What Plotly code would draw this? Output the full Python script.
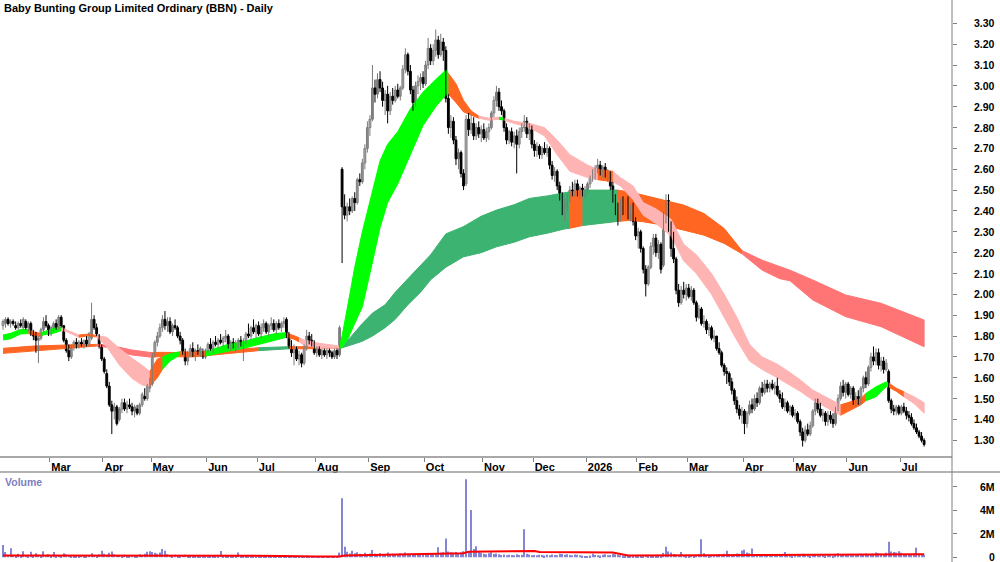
import plotly.graph_objects as go

FONT = "Liberation Sans, Arial, sans-serif"
title_text = "Baby Bunting Group Limited Ordinary (BBN) - Daily"

# month labels and index of first trading day of each month
month_labels = ["Mar", "Apr", "May", "Jun", "Jul", "Aug", "Sep", "Oct", "Nov", "Dec",
                "2026", "Feb", "Mar", "Apr", "May", "Jun", "Jul"]
month_start = [19, 40, 59, 81, 101, 124, 145, 167, 190, 210, 231, 251, 271, 293, 313, 334, 355]

price_ticks = [1.30, 1.40, 1.50, 1.60, 1.70, 1.80, 1.90, 2.00, 2.10, 2.20, 2.30,
               2.40, 2.50, 2.60, 2.70, 2.80, 2.90, 3.00, 3.10, 3.20, 3.30]
vol_ticks = [0, 2e6, 4e6, 6e6]
vol_tick_text = ["0", "2M", "4M", "6M"]

opens = [
    1.85,1.86,1.88,1.86,1.87,1.85,1.84,1.86,1.84,1.87,
    1.84,1.86,1.81,1.80,1.78,1.79,1.83,1.87,1.85,1.81,
    1.84,1.86,1.84,1.89,1.85,1.78,1.73,1.70,1.75,1.77,
    1.76,1.77,1.76,1.78,1.76,1.79,1.88,1.84,1.80,1.75,
    1.69,1.62,1.56,1.47,1.44,1.46,1.40,1.45,1.48,1.45,
    1.47,1.46,1.44,1.45,1.43,1.47,1.51,1.50,1.55,1.57,
    1.71,1.77,1.80,1.84,1.88,1.85,1.87,1.82,1.85,1.84,
    1.80,1.78,1.72,1.68,1.71,1.74,1.71,1.73,1.72,1.72,
    1.70,1.73,1.76,1.74,1.77,1.76,1.78,1.77,1.79,1.80,
    1.75,1.77,1.75,1.76,1.78,1.76,1.77,1.81,1.80,1.84,
    1.82,1.85,1.81,1.84,1.86,1.82,1.85,1.86,1.83,1.86,
    1.84,1.86,1.88,1.80,1.75,1.72,1.74,1.69,1.71,1.67,
    1.74,1.80,1.78,1.76,1.72,1.74,1.71,1.73,1.71,1.73,
    1.72,1.70,1.73,1.71,2.60,2.42,2.38,2.42,2.40,2.46,
    2.44,2.55,2.54,2.63,2.70,2.80,2.84,2.99,2.96,3.03,
    2.99,2.93,2.96,2.88,2.95,2.93,2.98,2.95,2.99,3.08,
    3.15,3.07,2.98,2.92,3.00,3.02,3.04,3.01,3.10,3.18,
    3.12,3.17,3.22,3.15,3.21,3.17,2.94,2.80,2.83,2.74,
    2.65,2.68,2.58,2.53,2.84,2.79,2.82,2.76,2.80,2.77,
    2.79,2.75,2.78,2.80,2.87,2.93,2.97,2.90,2.88,2.80,
    2.74,2.78,2.73,2.76,2.72,2.78,2.80,2.83,2.77,2.79,
    2.72,2.69,2.71,2.67,2.70,2.68,2.70,2.62,2.57,2.59,
    2.52,2.47,2.40,2.44,2.46,2.50,2.49,2.53,2.48,2.51,
    2.49,2.50,2.53,2.56,2.58,2.60,2.62,2.59,2.61,2.57,
    2.58,2.52,2.46,2.40,2.36,2.44,2.40,2.45,2.38,2.41,
    2.35,2.28,2.30,2.22,2.12,2.05,2.13,2.23,2.27,2.20,
    2.24,2.14,2.38,2.45,2.33,2.22,2.17,2.02,1.96,2.02,
    2.00,2.03,1.99,2.02,1.96,1.89,1.93,1.86,1.87,1.83,
    1.84,1.79,1.80,1.74,1.72,1.66,1.63,1.62,1.58,1.54,
    1.49,1.45,1.42,1.44,1.38,1.43,1.47,1.45,1.50,1.48,
    1.55,1.53,1.57,1.55,1.57,1.55,1.56,1.52,1.50,1.46,
    1.48,1.44,1.46,1.42,1.43,1.39,1.34,1.30,1.35,1.33,
    1.37,1.44,1.48,1.45,1.42,1.43,1.39,1.42,1.40,1.38,
    1.45,1.50,1.56,1.53,1.57,1.52,1.55,1.49,1.51,1.48,
    1.55,1.60,1.57,1.65,1.70,1.68,1.72,1.66,1.68,1.64,
    1.63,1.49,1.45,1.44,1.46,1.43,1.46,1.44,1.42,1.41,
    1.38,1.36,1.34,1.32,1.30,
]
highs = [
    1.88,1.89,1.89,1.88,1.88,1.87,1.87,1.88,1.89,1.88,
    1.87,1.87,1.83,1.82,1.80,1.84,1.89,1.90,1.86,1.85,
    1.87,1.88,1.90,1.90,1.85,1.79,1.76,1.76,1.78,1.79,
    1.78,1.79,1.78,1.80,1.82,1.96,1.90,1.86,1.81,1.76,
    1.70,1.64,1.58,1.49,1.48,1.47,1.46,1.50,1.50,1.49,
    1.50,1.48,1.47,1.47,1.48,1.53,1.55,1.57,1.60,1.72,
    1.78,1.82,1.86,1.90,1.92,1.89,1.89,1.86,1.88,1.85,
    1.82,1.79,1.74,1.73,1.76,1.77,1.74,1.76,1.75,1.74,
    1.74,1.77,1.79,1.78,1.80,1.79,1.81,1.80,1.83,1.81,
    1.78,1.79,1.78,1.79,1.80,1.79,1.82,1.86,1.85,1.88,
    1.86,1.87,1.86,1.88,1.87,1.86,1.89,1.88,1.87,1.88,
    1.87,1.89,1.89,1.82,1.78,1.76,1.75,1.73,1.72,1.76,
    1.83,1.82,1.81,1.78,1.75,1.75,1.74,1.74,1.74,1.74,
    1.73,1.74,1.74,1.85,2.61,2.48,2.44,2.46,2.47,2.49,
    2.56,2.58,2.65,2.72,2.83,2.86,3.10,3.03,3.06,3.07,
    3.02,2.98,3.00,2.97,2.99,3.00,3.01,3.00,3.10,3.18,
    3.16,3.10,3.00,3.02,3.05,3.06,3.07,3.12,3.23,3.20,
    3.20,3.27,3.24,3.25,3.23,3.19,2.96,2.86,2.85,2.76,
    2.70,2.69,2.60,2.86,2.87,2.86,2.85,2.82,2.83,2.81,
    2.82,2.80,2.82,2.88,2.95,3.00,2.99,2.93,2.89,2.82,
    2.79,2.80,2.78,2.79,2.80,2.82,2.86,2.85,2.82,2.81,
    2.74,2.73,2.72,2.71,2.73,2.72,2.71,2.64,2.61,2.60,
    2.54,2.49,2.46,2.48,2.52,2.54,2.55,2.55,2.52,2.53,
    2.52,2.54,2.57,2.60,2.62,2.65,2.64,2.62,2.63,2.60,
    2.59,2.54,2.48,2.44,2.46,2.47,2.46,2.47,2.43,2.44,
    2.37,2.32,2.31,2.23,2.14,2.14,2.25,2.29,2.29,2.26,
    2.25,2.40,2.48,2.48,2.35,2.30,2.18,2.05,2.04,2.06,
    2.05,2.05,2.04,2.03,1.97,1.95,1.94,1.90,1.88,1.86,
    1.85,1.83,1.80,1.77,1.73,1.67,1.65,1.63,1.60,1.55,
    1.51,1.47,1.46,1.45,1.44,1.49,1.50,1.52,1.53,1.56,
    1.58,1.59,1.59,1.58,1.59,1.58,1.60,1.54,1.53,1.50,
    1.49,1.47,1.47,1.45,1.44,1.40,1.36,1.37,1.38,1.39,
    1.45,1.50,1.50,1.48,1.45,1.44,1.44,1.44,1.43,1.46,
    1.52,1.58,1.59,1.58,1.58,1.56,1.56,1.53,1.54,1.56,
    1.61,1.63,1.66,1.72,1.75,1.74,1.74,1.70,1.70,1.69,
    1.64,1.50,1.47,1.47,1.47,1.47,1.48,1.46,1.44,1.43,
    1.40,1.38,1.35,1.34,1.31,
]
lows = [
    1.83,1.84,1.85,1.84,1.85,1.83,1.83,1.84,1.83,1.83,
    1.82,1.80,1.78,1.72,1.67,1.78,1.82,1.84,1.80,1.80,
    1.82,1.83,1.83,1.84,1.77,1.72,1.68,1.69,1.73,1.74,
    1.74,1.75,1.74,1.75,1.75,1.78,1.83,1.80,1.74,1.68,
    1.62,1.55,1.46,1.33,1.40,1.37,1.39,1.43,1.44,1.43,
    1.45,1.42,1.41,1.42,1.42,1.46,1.49,1.49,1.53,1.56,
    1.70,1.75,1.79,1.82,1.83,1.82,1.81,1.80,1.83,1.79,
    1.76,1.71,1.66,1.66,1.70,1.70,1.68,1.71,1.70,1.69,
    1.69,1.72,1.73,1.72,1.75,1.74,1.76,1.75,1.77,1.74,
    1.73,1.74,1.72,1.74,1.75,1.68,1.76,1.79,1.78,1.81,
    1.79,1.80,1.79,1.82,1.81,1.80,1.83,1.82,1.81,1.83,
    1.82,1.84,1.79,1.74,1.70,1.66,1.68,1.66,1.65,1.66,
    1.73,1.76,1.75,1.71,1.70,1.70,1.69,1.70,1.69,1.70,
    1.69,1.69,1.69,1.70,2.15,2.36,2.35,2.38,2.39,2.40,
    2.43,2.52,2.53,2.60,2.68,2.76,2.83,2.92,2.94,2.97,
    2.90,2.86,2.82,2.86,2.91,2.92,2.94,2.93,2.98,3.06,
    3.05,2.96,2.88,2.90,2.96,2.98,2.99,3.00,3.08,3.10,
    3.10,3.14,3.13,3.14,3.12,2.92,2.77,2.75,2.72,2.62,
    2.60,2.56,2.50,2.52,2.76,2.77,2.74,2.74,2.75,2.73,
    2.74,2.73,2.74,2.79,2.85,2.90,2.88,2.86,2.78,2.72,
    2.72,2.71,2.70,2.58,2.70,2.75,2.78,2.75,2.74,2.70,
    2.66,2.66,2.65,2.65,2.67,2.66,2.60,2.55,2.54,2.50,
    2.45,2.38,2.35,2.40,2.44,2.47,2.47,2.47,2.46,2.47,
    2.46,2.48,2.51,2.54,2.55,2.58,2.57,2.56,2.56,2.54,
    2.50,2.44,2.38,2.33,2.35,2.38,2.38,2.36,2.35,2.33,
    2.26,2.22,2.20,2.10,1.99,2.04,2.12,2.19,2.18,2.17,
    2.10,2.13,2.34,2.30,2.18,2.15,2.00,1.94,1.95,1.98,
    1.97,1.98,1.97,1.95,1.87,1.88,1.85,1.84,1.81,1.80,
    1.78,1.77,1.73,1.71,1.65,1.61,1.57,1.56,1.52,1.47,
    1.43,1.40,1.38,1.33,1.36,1.42,1.43,1.44,1.46,1.47,
    1.51,1.52,1.53,1.53,1.54,1.52,1.51,1.48,1.45,1.44,
    1.43,1.42,1.41,1.40,1.38,1.32,1.27,1.29,1.32,1.32,
    1.36,1.42,1.43,1.41,1.39,1.37,1.37,1.38,1.36,1.37,
    1.44,1.49,1.51,1.50,1.51,1.50,1.47,1.46,1.47,1.47,
    1.53,1.55,1.56,1.63,1.66,1.66,1.64,1.63,1.62,1.63,
    1.48,1.43,1.42,1.42,1.42,1.42,1.43,1.40,1.39,1.37,
    1.35,1.33,1.31,1.29,1.27,
]
closes = [
    1.87,1.88,1.86,1.87,1.86,1.84,1.86,1.85,1.88,1.84,
    1.86,1.81,1.80,1.78,1.79,1.83,1.87,1.85,1.81,1.84,
    1.86,1.84,1.89,1.85,1.78,1.73,1.70,1.75,1.77,1.76,
    1.77,1.76,1.78,1.76,1.81,1.88,1.84,1.81,1.75,1.69,
    1.63,1.56,1.47,1.44,1.46,1.38,1.45,1.48,1.45,1.47,
    1.46,1.44,1.46,1.43,1.47,1.52,1.50,1.56,1.58,1.71,
    1.77,1.80,1.84,1.88,1.85,1.87,1.82,1.85,1.84,1.80,
    1.78,1.72,1.68,1.71,1.74,1.71,1.73,1.72,1.74,1.70,
    1.73,1.76,1.74,1.77,1.76,1.78,1.77,1.79,1.80,1.75,
    1.77,1.75,1.76,1.78,1.76,1.77,1.81,1.80,1.84,1.82,
    1.85,1.81,1.84,1.86,1.82,1.85,1.86,1.83,1.86,1.84,
    1.86,1.87,1.80,1.75,1.72,1.74,1.69,1.71,1.67,1.75,
    1.80,1.78,1.76,1.72,1.74,1.71,1.73,1.71,1.73,1.72,
    1.70,1.73,1.71,1.84,2.42,2.38,2.42,2.40,2.46,2.44,
    2.55,2.54,2.63,2.70,2.80,2.84,2.99,2.96,3.03,2.99,
    2.93,2.96,2.88,2.95,2.93,2.98,2.95,2.99,3.08,3.15,
    3.07,2.98,2.92,3.00,3.02,3.04,3.01,3.10,3.18,3.12,
    3.17,3.22,3.15,3.21,3.17,2.94,2.80,2.83,2.74,2.65,
    2.68,2.58,2.52,2.84,2.79,2.82,2.76,2.80,2.77,2.79,
    2.75,2.78,2.80,2.87,2.93,2.97,2.90,2.88,2.80,2.74,
    2.78,2.73,2.76,2.72,2.78,2.80,2.83,2.77,2.79,2.72,
    2.69,2.71,2.67,2.70,2.68,2.70,2.62,2.57,2.59,2.52,
    2.47,2.40,2.44,2.46,2.50,2.49,2.53,2.48,2.51,2.49,
    2.50,2.53,2.56,2.58,2.60,2.62,2.59,2.61,2.57,2.58,
    2.52,2.46,2.40,2.36,2.44,2.40,2.45,2.38,2.41,2.35,
    2.28,2.30,2.22,2.12,2.05,2.13,2.23,2.27,2.20,2.24,
    2.12,2.38,2.45,2.33,2.22,2.17,2.02,1.96,2.02,2.00,
    2.03,1.99,2.02,1.96,1.89,1.93,1.86,1.87,1.83,1.84,
    1.79,1.80,1.74,1.72,1.66,1.63,1.62,1.58,1.54,1.49,
    1.45,1.42,1.44,1.38,1.43,1.47,1.45,1.50,1.48,1.55,
    1.53,1.57,1.55,1.57,1.55,1.56,1.52,1.50,1.46,1.48,
    1.44,1.46,1.42,1.43,1.39,1.34,1.30,1.35,1.33,1.37,
    1.44,1.48,1.45,1.42,1.43,1.39,1.42,1.40,1.38,1.45,
    1.50,1.56,1.53,1.57,1.52,1.55,1.49,1.51,1.48,1.55,
    1.60,1.57,1.65,1.70,1.68,1.72,1.66,1.68,1.64,1.67,
    1.49,1.45,1.44,1.46,1.43,1.46,1.44,1.42,1.41,1.38,
    1.36,1.34,1.32,1.30,1.28,
]

# daily volume, thousands of shares
volumes_k = [
    1050,450,200,770,180,120,300,150,520,200,160,480,140,350,220,130,510,180,260,120,
    450,150,200,130,350,240,180,110,160,90,140,200,120,150,180,350,210,160,250,560,
    300,220,380,500,260,190,170,120,210,150,110,180,130,160,250,200,300,480,520,450,
    380,300,400,700,550,260,180,140,210,160,130,170,220,150,120,100,140,90,130,110,
    160,120,100,140,90,110,530,150,120,100,130,90,160,400,150,120,110,140,100,130,
    90,120,150,110,80,100,130,90,110,140,120,100,150,130,90,110,80,100,70,120,
    150,90,60,80,70,50,90,60,80,50,70,60,90,400,5020,900,480,320,560,350,
    420,300,280,380,250,330,620,300,260,350,220,290,400,240,310,260,230,350,280,400,
    300,260,220,320,280,240,260,300,350,280,320,260,850,380,420,1600,500,420,380,460,
    350,400,520,6640,500,4030,700,940,450,380,300,260,340,420,280,320,250,200,230,180,
    220,200,170,250,190,210,2380,300,240,180,200,170,220,190,160,210,180,240,200,170,
    300,280,220,260,200,180,240,210,170,150,120,110,160,300,200,180,150,210,250,170,
    200,300,260,220,180,150,130,120,160,140,110,130,150,120,180,140,120,160,130,110,
    150,380,900,500,400,280,220,170,450,200,160,140,180,130,200,250,1530,350,180,150,
    200,170,220,250,190,300,550,280,220,260,320,300,580,650,400,350,740,280,240,200,
    220,180,260,210,190,230,170,200,250,450,220,180,160,210,190,240,300,200,180,160,
    220,250,200,170,190,150,210,180,160,240,350,280,220,260,200,240,180,220,280,300,
    260,320,280,250,300,400,350,300,260,380,1330,500,450,400,520,380,300,260,280,240,
    320,820,300,260,220,
]

# volume moving average (millions) read at sample days
vol_ma_idx = [0, 30, 60, 90, 110, 124, 133, 135, 150, 165,
              175, 182, 184, 196, 198, 210, 212, 234, 236, 241,
              247, 260, 280, 300, 320, 340, 364]
vol_ma_m = [0.15, 0.15, 0.17, 0.13, 0.12, 0.07, 0.06, 0.15, 0.20, 0.25,
            0.30, 0.35, 0.48, 0.48, 0.54, 0.54, 0.46, 0.46, 0.40, 0.40,
            0.16, 0.15, 0.17, 0.20, 0.20, 0.22, 0.25]

# short-term moving-average ribbon: sample day, upper, lower, trend state
short_idx = [0, 3, 7, 10, 12, 15, 16, 20, 23, 25,
             30, 34, 37, 41, 46, 51, 55, 58, 61, 63,
             66, 70, 75, 80, 88, 95, 101, 108, 112, 115,
             117, 119, 125, 130, 133, 134, 136, 139, 142, 145,
             149, 152, 156, 161, 166, 171, 175, 176, 179, 182,
             185, 188, 192, 196, 198, 202, 208, 214, 219, 224,
             231, 235, 241, 244, 249, 253, 258, 264, 269, 274,
             280, 285, 290, 295, 300, 306, 311, 315, 320, 325,
             331, 335, 339, 341, 345, 349, 350, 353, 356, 360,
             364]
short_top = [1.805, 1.813, 1.832, 1.830, 1.821, 1.812, 1.820, 1.837, 1.842, 1.830,
             1.805, 1.810, 1.802, 1.794, 1.741, 1.693, 1.660, 1.630, 1.690, 1.700,
             1.715, 1.725, 1.722, 1.725, 1.757, 1.773, 1.794, 1.813, 1.816, 1.800,
             1.792, 1.781, 1.765, 1.757, 1.752, 1.800, 1.930, 2.130, 2.300, 2.450,
             2.640, 2.720, 2.780, 2.890, 2.970, 3.030, 3.076, 3.060, 3.010, 2.930,
             2.880, 2.855, 2.845, 2.850, 2.845, 2.830, 2.820, 2.800, 2.740, 2.670,
             2.620, 2.600, 2.590, 2.560, 2.520, 2.440, 2.410, 2.360, 2.240, 2.190,
             2.100, 2.000, 1.890, 1.760, 1.700, 1.665, 1.625, 1.590, 1.541, 1.509,
             1.470, 1.485, 1.500, 1.525, 1.557, 1.580, 1.575, 1.550, 1.533, 1.509,
             1.480]
short_bot = [1.781, 1.787, 1.810, 1.812, 1.805, 1.798, 1.806, 1.813, 1.826, 1.822,
             1.794, 1.802, 1.795, 1.749, 1.661, 1.597, 1.565, 1.560, 1.600, 1.640,
             1.680, 1.710, 1.712, 1.704, 1.725, 1.741, 1.762, 1.781, 1.794, 1.785,
             1.772, 1.757, 1.741, 1.741, 1.742, 1.745, 1.780, 1.860, 1.940, 2.100,
             2.320, 2.440, 2.530, 2.670, 2.810, 2.900, 2.957, 2.960, 2.920, 2.875,
             2.860, 2.845, 2.835, 2.840, 2.835, 2.820, 2.800, 2.760, 2.670, 2.590,
             2.560, 2.550, 2.540, 2.520, 2.455, 2.380, 2.340, 2.280, 2.160, 2.100,
             2.000, 1.890, 1.780, 1.680, 1.640, 1.600, 1.565, 1.535, 1.493, 1.461,
             1.420, 1.445, 1.470, 1.490, 1.509, 1.557, 1.555, 1.535, 1.509, 1.477,
             1.430]
short_state = ["up", "up", "up", "mid", "mid", "up", "up", "up", "down", "down",
               "mid", "mid", "down", "down", "down", "down", "down", "mid", "mid", "up",
               "up", "mid", "mid", "up", "up", "up", "up", "up", "mid", "mid",
               "down", "down", "down", "down", "up", "up", "up", "up", "up", "up",
               "up", "up", "up", "up", "up", "up", "up", "mid", "mid", "mid",
               "mid", "down", "down", "up", "down", "down", "down", "down", "down", "down",
               "down", "mid", "down", "down", "down", "down", "down", "down", "down", "down",
               "down", "down", "down", "down", "down", "down", "down", "down", "down", "down",
               "mid", "mid", "mid", "up", "up", "up", "mid", "mid", "down", "down",
               "down"]

# long-term moving-average ribbon
long_idx = [0, 12, 25, 37, 41, 46, 51, 59, 62, 75,
            88, 101, 113, 125, 133, 137, 142, 146, 151, 155,
            160, 165, 169, 175, 182, 189, 195, 202, 208, 215,
            222, 224, 229, 235, 243, 248, 253, 261, 269, 277,
            285, 292, 300, 307, 311, 320, 333, 347, 364]
long_top = [1.741, 1.752, 1.757, 1.760, 1.757, 1.746, 1.733, 1.720, 1.722, 1.720,
            1.733, 1.744, 1.749, 1.748, 1.748, 1.790, 1.860, 1.910, 1.950, 2.010,
            2.075, 2.140, 2.190, 2.290, 2.325, 2.375, 2.404, 2.430, 2.460, 2.472,
            2.490, 2.492, 2.500, 2.500, 2.500, 2.490, 2.476, 2.452, 2.428, 2.388,
            2.316, 2.210, 2.164, 2.133, 2.116, 2.069, 1.997, 1.957, 1.877]
long_bot = [1.717, 1.730, 1.741, 1.752, 1.746, 1.725, 1.709, 1.698, 1.702, 1.700,
            1.714, 1.730, 1.739, 1.740, 1.740, 1.755, 1.775, 1.800, 1.840, 1.880,
            1.950, 2.010, 2.070, 2.130, 2.180, 2.200, 2.228, 2.250, 2.276, 2.293,
            2.314, 2.317, 2.330, 2.340, 2.350, 2.355, 2.348, 2.332, 2.308, 2.284,
            2.244, 2.195, 2.116, 2.075, 2.065, 1.973, 1.893, 1.845, 1.749]
long_state = ["mid", "mid", "mid", "down", "down", "down", "down", "mid", "mid", "mid",
              "mid", "up", "mid", "mid", "up", "up", "up", "up", "up", "up",
              "up", "up", "up", "up", "up", "up", "up", "up", "up", "up",
              "up", "mid", "up", "up", "mid", "mid", "mid", "mid", "mid", "mid",
              "mid", "down", "down", "down", "down", "down", "down", "down", "down"]

short_colors = {"up": "#00ff00", "mid": "#ff6622", "down": "#ffb4b4"}
long_colors = {"up": "#3cb371", "mid": "#ff6622", "down": "#ff7575"}

fig = go.Figure()


def add_ribbon(idx, top, bot, state, palette):
    m = len(idx)
    start = 0
    while start < m - 1:
        s = state[start]
        end = start
        while end < m - 1 and state[end] == s:
            end += 1
        xs = list(idx[start:end + 1]) + list(idx[start:end + 1])[::-1]
        ys = list(top[start:end + 1]) + list(bot[start:end + 1])[::-1]
        fig.add_trace(go.Scatter(
            x=xs, y=ys, mode="lines", fill="toself", fillcolor=palette[s],
            line=dict(color=palette[s], width=1), hoverinfo="skip",
            showlegend=False, xaxis="x", yaxis="y"))
        start = end


add_ribbon(long_idx, long_top, long_bot, long_state, long_colors)
add_ribbon(short_idx, short_top, short_bot, short_state, short_colors)

# candles: wicks (lines) then bodies (bars) so the bodies cover the wicks
n = len(closes)
up = [i for i in range(n) if closes[i] >= opens[i]]
dn = [i for i in range(n) if closes[i] < opens[i]]


def wick_xy(ids):
    xs, ys = [], []
    for i in ids:
        xs += [i, i, None]
        ys += [lows[i], highs[i], None]
    return xs, ys


for ids, col in ((up, "#7a7a7a"), (dn, "#000000")):
    wx, wy = wick_xy(ids)
    fig.add_trace(go.Scatter(x=wx, y=wy, mode="lines", line=dict(color=col, width=1),
                             hoverinfo="skip", showlegend=False, xaxis="x", yaxis="y"))

for ids, fill, edge in ((up, "#ffffff", "#7a7a7a"), (dn, "#000000", "#000000")):
    fig.add_trace(go.Bar(
        x=ids,
        base=[min(opens[i], closes[i]) for i in ids],
        y=[max(abs(closes[i] - opens[i]), 0.003) for i in ids],
        width=0.72, marker=dict(color=fill, line=dict(color=edge, width=1)),
        hoverinfo="skip", showlegend=False, xaxis="x", yaxis="y"))

days = list(range(n))
fig.add_trace(go.Bar(
    x=days, y=[v * 1000 for v in volumes_k], width=0.45,
    marker=dict(color="#8585d6", line=dict(width=0)),
    showlegend=False, hoverinfo="skip", xaxis="x2", yaxis="y2"))
fig.add_trace(go.Scatter(
    x=vol_ma_idx, y=[v * 1e6 for v in vol_ma_m], mode="lines",
    line=dict(color="#ff0000", width=2), showlegend=False, hoverinfo="skip",
    xaxis="x2", yaxis="y2"))

H = 562.0
px_per_day = 2.5305
x_lo = -3 / px_per_day
x_hi = x_lo + 952 / px_per_day

axis_font = dict(family=FONT, size=11, color="black", weight="bold")

fig.update_layout(
    width=1000, height=562, margin=dict(l=0, r=0, t=0, b=0),
    paper_bgcolor="white", plot_bgcolor="white", showlegend=False,
    barmode="overlay", font=dict(family=FONT),
    xaxis=dict(domain=[0, 0.952], range=[x_lo, x_hi], anchor="y",
               tickmode="array", tickvals=[m - 0.5 for m in month_start],
               ticktext=month_labels, ticks="outside", ticklen=4,
               tickcolor="#808080", showline=True, linecolor="#a8a8a8",
               linewidth=2, showgrid=False, zeroline=False,
               ticklabelposition="outside right", tickfont=axis_font),
    yaxis=dict(domain=[1 - 456 / H, 1], range=[1.2247, 3.4118], side="right",
               anchor="x", tickmode="array", tickvals=price_ticks,
               showticklabels=False, ticks="outside", ticklen=4,
               tickcolor="#808080", showgrid=False, zeroline=False,
               showline=False),
    xaxis2=dict(domain=[0, 0.952], matches="x", anchor="y2", visible=False),
    yaxis2=dict(domain=[0, 1 - 472 / H], range=[-0.4e6, 7.26e6], side="right",
                anchor="x2", tickmode="array", tickvals=vol_ticks,
                showticklabels=False, ticks="outside", ticklen=4,
                tickcolor="#808080", showgrid=False, zeroline=False,
                showline=False),
)

annotations = []
annotations.append(dict(text=title_text, xref="paper", yref="paper", x=0.002, y=1,
                        xanchor="left", yanchor="top", showarrow=False,
                        font=dict(family=FONT, size=11, color="black", weight="bold")))
annotations.append(dict(text="Volume", xref="paper", yref="paper", x=0.003,
                        y=1 - 474 / H, xanchor="left", yanchor="top", showarrow=False,
                        font=dict(family=FONT, size=10.5, color="#7f7fbf", weight="bold")))
for v in price_ticks:
    annotations.append(dict(text=f"{v:.2f}", xref="paper", yref="y", x=0.997, y=v,
                            xanchor="right", yanchor="middle", showarrow=False,
                            font=dict(family=FONT, size=10.5, color="black", weight="bold")))
for v, t in zip(vol_ticks, vol_tick_text):
    annotations.append(dict(text=t, xref="paper", yref="y2", x=0.997, y=v,
                            xanchor="right", yanchor="middle", showarrow=False,
                            font=dict(family=FONT, size=10.5, color="black", weight="bold")))
fig.update_layout(annotations=annotations)

fig.update_layout(shapes=[
    dict(type="line", xref="paper", yref="paper", x0=0, x1=1,
         y0=1 - 472 / H, y1=1 - 472 / H, line=dict(color="#9a9a9a", width=1.5)),
    dict(type="line", xref="paper", yref="paper", x0=0.952, x1=0.952,
         y0=0, y1=1, line=dict(color="#808080", width=1)),
])

fig.write_html("out.html")
